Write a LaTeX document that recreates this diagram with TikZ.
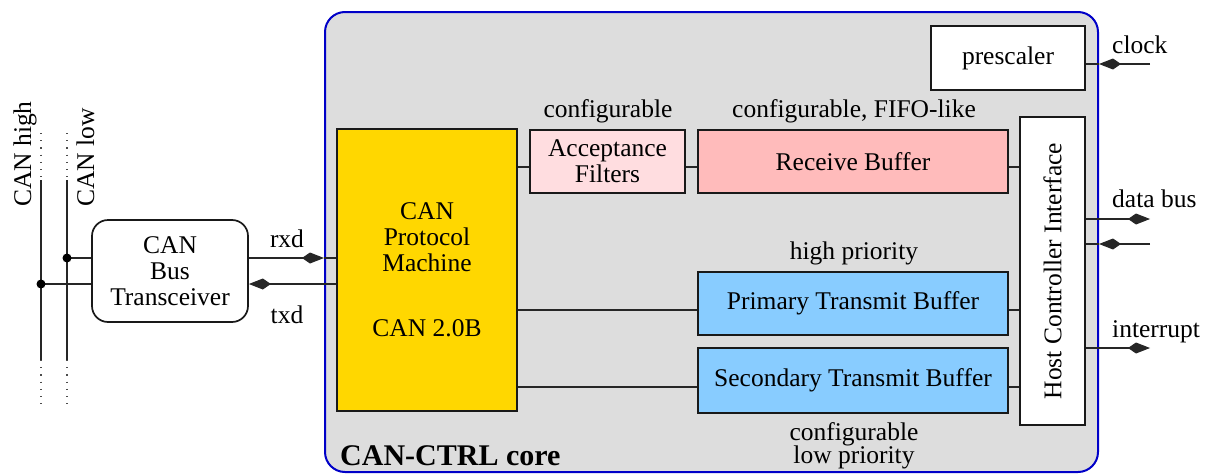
\documentclass[tikz,border=0pt]{standalone}
\usepackage{fontspec}
\setmainfont{Liberation Serif}[Ligatures=TeX]
\newfontfamily\tms{Liberation Serif}
\usetikzlibrary{arrows.meta}
\definecolor{corefill}{HTML}{DDDDDD}
\definecolor{coreblue}{HTML}{0000C8}
\definecolor{cpmyellow}{HTML}{FFD700}
\definecolor{afpink}{HTML}{FFDDE0}
\definecolor{rbpink}{HTML}{FFBBBB}
\definecolor{bufblue}{HTML}{88CCFF}
\tikzset{
  txt/.style={font=\tms\fontsize{25.5}{26}\selectfont, inner sep=0pt},
  blk/.style={draw=black!90, line width=1.7pt, inner sep=0pt, align=center,
              font=\tms\fontsize{25.5}{26}\selectfont},
  conn/.style={line width=1.1pt, draw=black!85},
  kite/.style={conn, -{Kite[length=22pt, width=11pt, inset=8pt]}},
  bus/.style={line width=1.1pt, draw=black!85},
  busdots/.style={line width=1.1pt, draw=black!70, dotted, dash pattern=on 1.2pt off 6pt},
}
\begin{document}
\begin{tikzpicture}[x=1pt, y=-1pt]
\useasboundingbox (0,0) rectangle (1210,474);

% core
\node[draw=coreblue, fill=corefill, line width=2pt, rounded corners=20pt,
      minimum width=773pt, minimum height=460pt, inner sep=0pt] (core) at (711.5,242) {};

% blocks
\node[blk, fill=cpmyellow, minimum width=180pt, minimum height=282pt] (cpm) at (427,270)
  {CAN\\Protocol\\Machine\\[39pt]CAN 2.0B};
\node[blk, fill=afpink, minimum width=155pt, minimum height=63pt] (af) at (607.5,161.5)
  {Acceptance\\Filters};
\node[blk, fill=rbpink, minimum width=310pt, minimum height=63pt] (rb) at (853,161.5)
  {Receive Buffer};
\node[blk, fill=bufblue, minimum width=310pt, minimum height=63pt] (ptb) at (853,303.5)
  {Primary Transmit Buffer};
\node[blk, fill=bufblue, minimum width=310pt, minimum height=65pt] (stb) at (853,380.5)
  {Secondary Transmit Buffer};
\node[blk, fill=white, minimum width=65pt, minimum height=308pt] (hci) at (1052.5,271)
  {\rotatebox{90}{Host Controller Interface}};
\node[blk, fill=white, minimum width=154pt, minimum height=64pt] (pre) at (1008,58)
  {prescaler};
\node[blk, fill=white, rounded corners=16pt, minimum width=156pt, minimum height=102pt] (trx) at (170,271)
  {CAN\\Bus\\Transceiver};

% labels
\node[txt, anchor=base] (l1) at (608,117) {configurable};
\node[txt, anchor=base] (l2) at (854,117) {configurable, FIFO-like};
\node[txt, anchor=base] (l3) at (854,259) {high priority};
\node[txt, anchor=base] (l4) at (854,440) {configurable};
\node[txt, anchor=base] (l5) at (854,463) {low priority};
\node[txt, anchor=base west, font=\tms\fontsize{30}{32}\selectfont\bfseries] (l6) at (340,465) {CAN-CTRL core};
\node[txt, anchor=base] (rxdl) at (287,247) {rxd};
\node[txt, anchor=base] (txdl) at (287,323) {txd};
\node[txt, anchor=base west] (clkl) at (1112,53) {clock};
\node[txt, anchor=base west] (dbl) at (1112,207) {data bus};
\node[txt, anchor=base west] (intl) at (1112,337) {interrupt};
\node[txt, rotate=90, anchor=base west] (canh) at (31,207) {CAN high};
\node[txt, rotate=90, anchor=base west] (canl) at (94,207) {CAN low};

% internal connectors
\coordinate (ya) at (0,167);
\coordinate (yp) at (0,310);
\coordinate (ys) at (0,387);
\draw[conn] (cpm.east |- ya) -- (af.west |- ya);
\draw[conn] (af.east |- ya) -- (rb.west |- ya);
\draw[conn] (rb.east |- ya) -- (hci.west |- ya);
\draw[conn] (cpm.east |- yp) -- (ptb.west |- yp);
\draw[conn] (ptb.east |- yp) -- (hci.west |- yp);
\draw[conn] (cpm.east |- ys) -- (stb.west |- ys);
\draw[conn] (stb.east |- ys) -- (hci.west |- ys);

% rxd / txd
\coordinate (yr) at (0,258);
\coordinate (yt) at (0,284);
\draw[kite] (trx.east |- yr) -- (core.west |- yr);
\draw[conn] (core.west |- yr) -- (cpm.west |- yr);
\draw[kite] (cpm.west |- yt) -- (trx.east |- yt);

% clock
\coordinate (clk) at (1150,64);
\draw[kite] (clk) -- (core.east |- clk);
\draw[conn] (core.east |- clk) -- (pre.east |- clk);

% data bus & interrupt
\coordinate (db1) at (1150,219);
\coordinate (db2) at (1150,244);
\coordinate (irq) at (1150,348);
\draw[kite] (hci.east |- db1) -- (db1);
\draw[kite] (db2) -- (core.east |- db2);
\draw[conn] (core.east |- db2) -- (hci.east |- db2);
\draw[kite] (hci.east |- irq) -- (irq);

% CAN bus lines
\coordinate (h0) at (41,133);
\coordinate (h1) at (41,180);
\coordinate (h2) at (41,360);
\coordinate (h3) at (41,408);
\coordinate (w0) at (67,133);
\coordinate (w1) at (67,180);
\coordinate (w2) at (67,360);
\coordinate (w3) at (67,408);
\draw[busdots] (h0) -- (h1);
\draw[bus] (h1) -- (h2);
\draw[busdots] (h2) -- (h3);
\draw[busdots] (w0) -- (w1);
\draw[bus] (w1) -- (w2);
\draw[busdots] (w2) -- (w3);
\coordinate (hd) at (41,284);
\coordinate (wd) at (67,258);
\draw[conn] (wd) -- (trx.west |- wd);
\draw[conn] (hd) -- (trx.west |- hd);
\fill (wd) circle (4.5pt);
\fill (hd) circle (4.5pt);
\end{tikzpicture}
\end{document}
